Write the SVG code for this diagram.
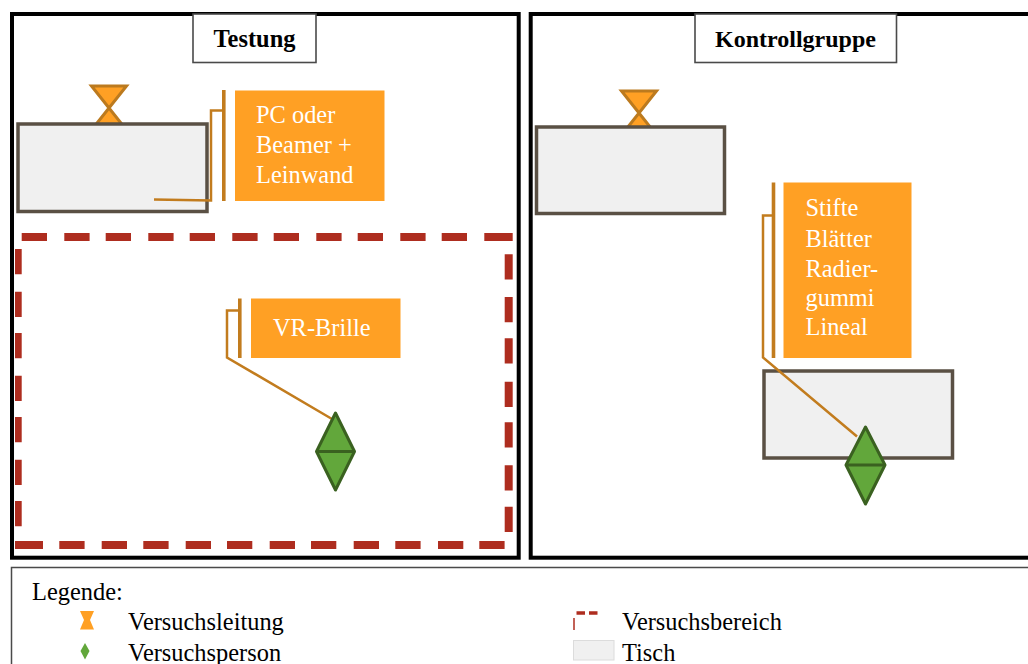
<svg xmlns="http://www.w3.org/2000/svg" width="1028" height="664" viewBox="0 0 1028 664">
<style>
text{font-family:"Liberation Serif","Times New Roman",serif;font-size:24.4px;fill:#000}
.w{fill:#fff}
.b{font-weight:bold;text-anchor:middle}
.panel{fill:#fff;stroke:#000;stroke-width:4}
.title{fill:#fff;stroke:#4a4a4a;stroke-width:1.6}
.table{fill:#f0f0f0;stroke:#5a5044;stroke-width:3.5}
.box{fill:#ffa024}
.hg{fill:#ffa024;stroke:#bc7a1e;stroke-width:3}
.dia{fill:#62a73b;stroke:#3a6120;stroke-width:3;stroke-linejoin:round}
.bar{fill:none;stroke:#c27c1e;stroke-width:3.6}
.lead{fill:none;stroke:#c27c1e;stroke-width:2.500}
.area{fill:none;stroke:#ae2d1f;stroke-width:8}
</style>
<rect width="1028" height="664" fill="#fff"/>
<g id="panel-testung">
<rect class="panel" x="12" y="14" width="506.700" height="543.700"/>
<rect class="title" x="193" y="14" width="123" height="48.500"/>
<text class="b" x="254.500" y="46.500">Testung</text>
</g>
<g id="panel-kontrollgruppe">
<rect class="panel" x="530.700" y="14" width="520" height="543.700"/>
<rect class="title" x="695" y="14" width="201.500" height="48.500"/>
<text class="b" x="795.500" y="46.500" style="font-size:24px">Kontrollgruppe</text>
</g>
<g id="versuchsbereich">
<path class="area" d="M21.700 237h25.300M64.300 237h25.300M105.700 237h25.300M148.300 237h25.300M189.700 237h25.300M232.300 237h25.300M273.700 237h25.300M316.300 237h25.300M357.700 237h25.300M400.300 237h25.300M441.700 237h25.300M484.300 237h28.400
M508.700 254.300v25.300M508.700 297v25.300M508.700 338.300v25.300M508.700 381.700v25.300M508.700 422.300v25.300M508.700 465.300v25.300M508.700 506.700v25.300
M15 545h28M59.300 545h25.300M101.700 545h25.300M143.300 545h25.300M185.700 545h25.300M227 545h25.300M269.700 545h25.300M311 545h25.300M353.700 545h25.300M395.300 545h25.300M438 545h25.300M479.300 545h25.300"/>
<path class="area" style="stroke-width:6.700" d="M18.350 249v25.300M18.350 291.700v25.300M18.350 333v25.300M18.350 375.700v25.300M18.350 417v25.300M18.350 459.700v25.300M18.350 501v25.300"/>
</g>
<g id="leitung-testung"><polygon class="hg" points="91.500,86 126.500,86 91.500,130 126.500,130"/></g>
<g id="tisch-testung"><rect class="table" x="18" y="124" width="189" height="87.500"/></g>
<g id="leitung-kontrolle"><polygon class="hg" points="621.500,91 656.500,91 621.500,135 656.500,135"/></g>
<g id="tisch-kontrolle-1"><rect class="table" x="536.500" y="127" width="188" height="86.500"/></g>
<g id="tisch-kontrolle-2"><rect class="table" x="764" y="371" width="188.500" height="87"/></g>
<g id="connectors">
<path class="lead" d="M223 110.500H211V200.500L154 199.500"/>
<path class="lead" d="M240 310.500H227V357.500L332 419"/>
<path class="lead" d="M773 215.500H763V357.500L857 436.500"/>
</g>
<g id="label-pc">
<path class="bar" d="M223.800 90V201"/>
<rect class="box" x="235" y="90.500" width="149.500" height="110.500"/>
<text class="w" x="256" y="123">PC oder</text>
<text class="w" x="256" y="152.500">Beamer +</text>
<text class="w" x="256" y="183">Leinwand</text>
</g>
<g id="label-vr">
<path class="bar" d="M239.800 298.500V358"/>
<rect class="box" x="251" y="298.500" width="149.500" height="59.500"/>
<text class="w" x="273" y="336">VR-Brille</text>
</g>
<g id="label-material">
<path class="bar" d="M773.500 182.500V358"/>
<rect class="box" x="783.500" y="182.500" width="128" height="175.500"/>
<text class="w" x="805.500" y="216">Stifte</text>
<text class="w" x="805.500" y="247">Blätter</text>
<text class="w" x="805.500" y="277">Radier-</text>
<text class="w" x="805.500" y="306">gummi</text>
<text class="w" x="805.500" y="335">Lineal</text>
</g>
<g id="person-testung">
<polygon class="dia" points="335.500,413 354.500,451.500 335.500,490 316.500,451.500"/>
<path class="dia" d="M316.500 451.500H354.500"/>
</g>
<g id="person-kontrolle">
<polygon class="dia" points="865.500,427 885,465 865.500,504 846,465"/>
<path class="dia" d="M846 465H885"/>
</g>
<g id="legende">
<rect x="11.500" y="567.500" width="1040" height="110" fill="#fff" stroke="#4a4a4a" stroke-width="1.500"/>
<text x="32" y="599.500">Legende:</text>
<polygon points="80,611 94,611 90,620 94,629.500 80,629.500 84,620" fill="#ffa024"/>
<text x="128" y="629.500">Versuchsleitung</text>
<polygon points="85,643 89.500,651 85,659.500 80.500,651" fill="#62a73b"/>
<text x="128" y="660.500">Versuchsperson</text>
<path d="M576.500 613H585M589 613H597.500" fill="none" stroke="#ae2d1f" stroke-width="3.500"/>
<path d="M574 618V630" fill="none" stroke="#ae2d1f" stroke-width="1.500"/>
<text x="622" y="629.500">Versuchsbereich</text>
<rect x="573.500" y="640.500" width="40.500" height="19.500" fill="#f0f0f0" stroke="#dcdcdc"/>
<text x="622" y="660.500">Tisch</text>
</g>
</svg>
